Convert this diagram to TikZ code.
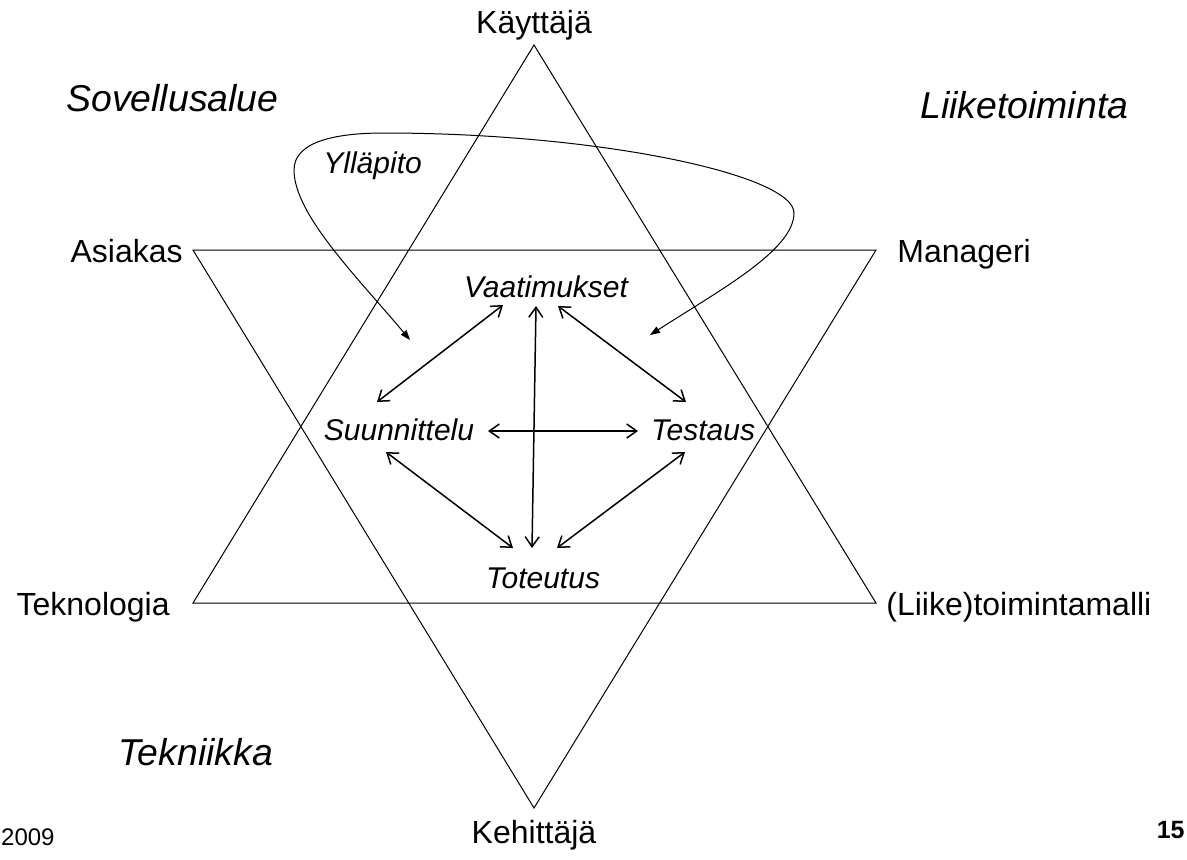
\documentclass[tikz,border=0pt]{standalone}
\usepackage{fontspec}
\setmainfont{Liberation Sans}
\usepackage{tikz}
\usetikzlibrary{arrows.meta,calc}

\begin{document}
\begin{tikzpicture}[
  x=0.5pt,y=-0.5pt,
  role/.style={inner sep=0pt,font=\fontsize{16}{18}\selectfont},
  area/.style={inner sep=0pt,font=\fontsize{18.7}{21}\selectfont\itshape},
  phase/.style={inner sep=0pt,font=\fontsize{15}{17}\selectfont\itshape},
  star/.style={line width=0.5pt,line join=miter},
  a/.style={{Straight Barb[length=5pt,width=7pt]}-{Straight Barb[length=5pt,width=7pt]},line width=0.75pt},
  loop/.style={{Triangle[length=5pt,width=3.6pt]}-{Triangle[length=5pt,width=3.6pt]},line width=0.5pt}
]
\useasboundingbox (0,0) rectangle (1187,859);

% star corners
\coordinate (up) at (534,45);
\coordinate (down) at (534,808);
\coordinate (tl) at (193,250);
\coordinate (tr) at (876,250);
\coordinate (bl) at (193,603);
\coordinate (br) at (876,603);
\draw[star] (up) -- (br) -- (bl) -- cycle;
\draw[star] (down) -- (tl) -- (tr) -- cycle;

% roles at the corners
\node[role,anchor=base] (kayttaja) at (534,33) {Käyttäjä};
\node[role,anchor=base] (kehittaja) at (534,843) {Kehittäjä};
\node[role,anchor=base east] (asiakas) at (183,262) {Asiakas};
\node[role,anchor=base west] (manageri) at (897,262) {Manageri};
\node[role,anchor=base east] (teknologia) at (170,615) {Teknologia};
\node[role,anchor=base west] (malli) at (886,615) {(Liike)toimintamalli};

% areas
\node[area,anchor=base west] (sovellus) at (66,111) {Sovellusalue};
\node[area,anchor=base west] (liiketoim) at (920,118) {Liiketoiminta};
\node[area,anchor=base west] (tekniikka) at (118,765) {Tekniikka};

% phases
\node[phase,anchor=base] (vaat) at (546,297) {Vaatimukset};
\node[phase,anchor=base] (suun) at (399,440) {Suunnittelu};
\node[phase,anchor=base] (test) at (703,440) {Testaus};
\node[phase,anchor=base] (tote) at (543,588) {Toteutus};
\node[phase,anchor=base west] (yllapito) at (323,173) {Ylläpito};

\draw[a] ($(vaat.base)+(-43,8)$) -- ($(suun.base)+(-22,-38)$);
\draw[a] ($(vaat.base)+(-10,9)$) -- ($(tote.base)+(-11,-40)$);
\draw[a] ($(vaat.base)+(12,9)$) -- ($(test.base)+(-17,-38)$);
\draw[a] ($(suun.base)+(89,-9)$) -- ($(test.base)+(-65,-9)$);
\draw[a] ($(suun.base)+(-13,12)$) -- ($(tote.base)+(-30,-40)$);
\draw[a] ($(test.base)+(-18,12)$) -- ($(tote.base)+(14,-40)$);

% maintenance loop
\coordinate (mleft) at (410,340);
\coordinate (mright) at (650,335);
\draw[loop] (mleft) .. controls (360,280) and (294,215) .. (294,170)
  .. controls (294,140) and (340,133) .. (384,133)
  .. controls (600,133) and (794,175) .. (794,213)
  .. controls (794,250) and (720,290) .. (mright);

% footer
\node[inner sep=0pt,anchor=base east,font=\fontsize{12}{14}\selectfont] (year) at (55,845) {2009};
\node[inner sep=0pt,anchor=base east,font=\fontsize{12.5}{14}\selectfont\bfseries] (page) at (1185,838) {15};
\end{tikzpicture}
\end{document}
